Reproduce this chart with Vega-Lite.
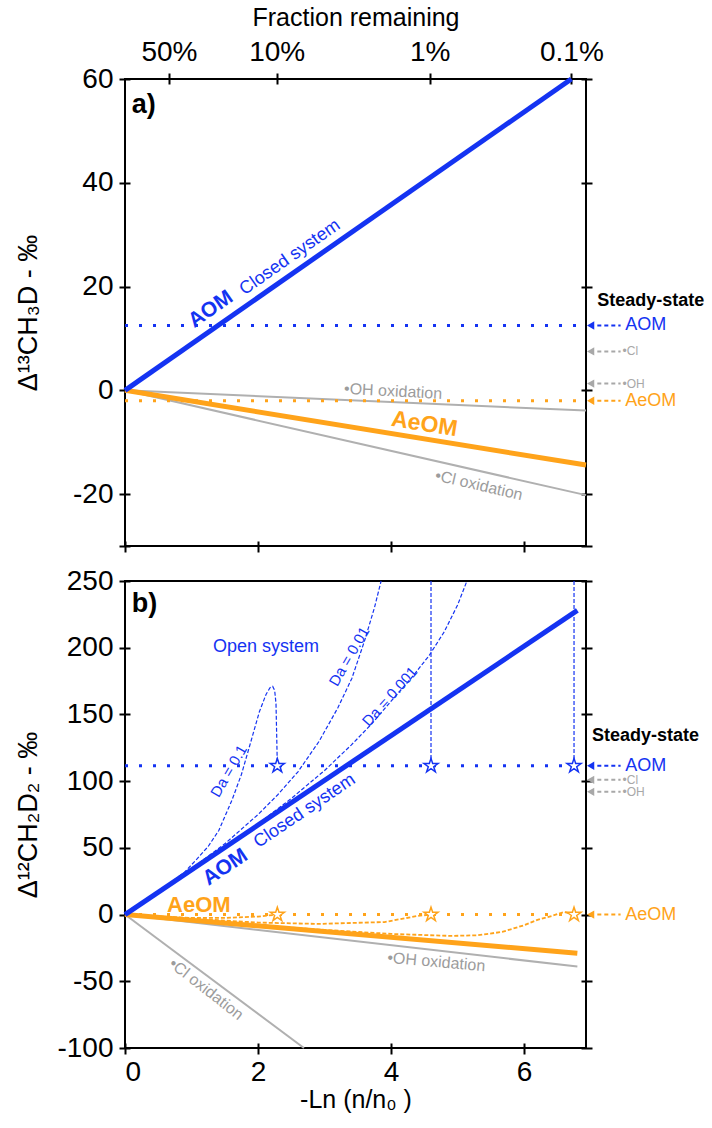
{
  "$schema": "https://vega.github.io/schema/vega-lite/v6.json",
  "padding": {"left": 13, "top": 4, "right": 0, "bottom": 0},
  "spacing": 35,
  "bounds": "flush",
  "config": {
    "font": "Liberation Sans",
    "view": {"stroke": "black", "strokeWidth": 2},
    "axis": {"domain": false, "grid": false, "offset": -5, "tickSize": 11, "tickWidth": 2, "tickColor": "black", "labelFont": "Liberation Sans", "labelFontSize": 28, "labelColor": "black", "labelPadding": 6, "titleFont": "Liberation Sans", "titleFontSize": 25, "titleFontWeight": "normal", "titleColor": "black"},
    "text": {"font": "Liberation Sans"}
  },
  "datasets": {
    "a_lines": [
      {"s": "AOM", "x": 0, "y": 0}, {"s": "AOM", "x": 6.71, "y": 60},
      {"s": "AeOM", "x": 0, "y": 0}, {"s": "AeOM", "x": 6.93, "y": -14.4},
      {"s": "OH", "x": 0, "y": 0}, {"s": "OH", "x": 6.93, "y": -3.9},
      {"s": "Cl", "x": 0, "y": 0}, {"s": "Cl", "x": 6.93, "y": -20.2},
      {"s": "AOM_ss", "x": 0, "y": 12.5}, {"s": "AOM_ss", "x": 6.93, "y": 12.5},
      {"s": "AeOM_ss", "x": 0, "y": -2}, {"s": "AeOM_ss", "x": 6.93, "y": -2}
    ],
    "a_text": [
      {"t": "a)", "x": 0.1, "y": 55},
      {"t": "AOM", "x": 1.29, "y": 15.6},
      {"t": "Closed system", "x": 2.48, "y": 25.6},
      {"t": "•OH oxidation", "x": 4.03, "y": -0.2},
      {"t": "AeOM", "x": 4.5, "y": -6.5},
      {"t": "•Cl oxidation", "x": 5.32, "y": -18.3},
      {"t": "Steady-state", "x": 7.1, "y": 17.3}
    ],
    "a_ss": [
      {"s": "AOM", "label": "AOM", "y": 12.5},
      {"s": "Cl", "label": "•Cl", "y": 7.5},
      {"s": "OH", "label": "•OH", "y": 1.3},
      {"s": "AeOM", "label": "AeOM", "y": -2}
    ],
    "b_lines": [
      {"s": "AOM", "x": 0, "y": 0}, {"s": "AOM", "x": 6.8, "y": 228},
      {"s": "AeOM", "x": 0, "y": 0}, {"s": "AeOM", "x": 6.8, "y": -29},
      {"s": "OH", "x": 0, "y": 0}, {"s": "OH", "x": 6.8, "y": -39},
      {"s": "Cl", "x": 0, "y": 0}, {"s": "Cl", "x": 2.69, "y": -100},
      {"s": "AOM_ss", "x": 0, "y": 111.5}, {"s": "AOM_ss", "x": 6.93, "y": 111.5},
      {"s": "AeOM_ss", "x": 0, "y": 0}, {"s": "AeOM_ss", "x": 6.93, "y": 0}
    ],
    "b_open": [
      {"s": "Da0.1", "x": 0, "y": 0}, {"s": "Da0.1", "x": 0.3, "y": 10}, {"s": "Da0.1", "x": 0.66, "y": 23}, {"s": "Da0.1", "x": 0.9, "y": 32}, {"s": "Da0.1", "x": 1.07, "y": 41}, {"s": "Da0.1", "x": 1.25, "y": 51}, {"s": "Da0.1", "x": 1.41, "y": 63}, {"s": "Da0.1", "x": 1.61, "y": 86}, {"s": "Da0.1", "x": 1.75, "y": 105}, {"s": "Da0.1", "x": 1.86, "y": 124}, {"s": "Da0.1", "x": 2.02, "y": 152}, {"s": "Da0.1", "x": 2.12, "y": 165}, {"s": "Da0.1", "x": 2.18, "y": 170}, {"s": "Da0.1", "x": 2.22, "y": 171}, {"s": "Da0.1", "x": 2.25, "y": 168}, {"s": "Da0.1", "x": 2.27, "y": 158}, {"s": "Da0.1", "x": 2.28, "y": 135}, {"s": "Da0.1", "x": 2.29, "y": 111.5},
      {"s": "Da0.01", "x": 0, "y": 0}, {"s": "Da0.01", "x": 0.5, "y": 17}, {"s": "Da0.01", "x": 1.0, "y": 34.5}, {"s": "Da0.01", "x": 1.5, "y": 53}, {"s": "Da0.01", "x": 2.0, "y": 75}, {"s": "Da0.01", "x": 2.3, "y": 90}, {"s": "Da0.01", "x": 2.6, "y": 107}, {"s": "Da0.01", "x": 2.92, "y": 130}, {"s": "Da0.01", "x": 3.2, "y": 155}, {"s": "Da0.01", "x": 3.41, "y": 177}, {"s": "Da0.01", "x": 3.6, "y": 205}, {"s": "Da0.01", "x": 3.75, "y": 230}, {"s": "Da0.01", "x": 3.85, "y": 250},
      {"s": "Da0.001", "x": 0, "y": 0}, {"s": "Da0.001", "x": 1.0, "y": 33.5}, {"s": "Da0.001", "x": 2.0, "y": 68}, {"s": "Da0.001", "x": 2.5, "y": 87}, {"s": "Da0.001", "x": 3.0, "y": 108}, {"s": "Da0.001", "x": 3.4, "y": 127}, {"s": "Da0.001", "x": 3.71, "y": 143}, {"s": "Da0.001", "x": 4.0, "y": 160}, {"s": "Da0.001", "x": 4.3, "y": 177}, {"s": "Da0.001", "x": 4.57, "y": 194}, {"s": "Da0.001", "x": 4.8, "y": 212}, {"s": "Da0.001", "x": 5.0, "y": 232}, {"s": "Da0.001", "x": 5.14, "y": 250}
    ],
    "b_vert": [
      {"x": 4.6, "y": 250, "y2": 111.5},
      {"x": 6.75, "y": 250, "y2": 111.5}
    ],
    "b_open_ae": [
      {"s": "Da0.1", "x": 0, "y": 0}, {"s": "Da0.1", "x": 0.5, "y": -1.5}, {"s": "Da0.1", "x": 1.0, "y": -2.5}, {"s": "Da0.1", "x": 1.5, "y": -2.5}, {"s": "Da0.1", "x": 2.0, "y": -1.5}, {"s": "Da0.1", "x": 2.29, "y": 0},
      {"s": "Da0.01", "x": 0, "y": 0}, {"s": "Da0.01", "x": 1.0, "y": -3}, {"s": "Da0.01", "x": 2.0, "y": -6}, {"s": "Da0.01", "x": 2.9, "y": -7}, {"s": "Da0.01", "x": 3.9, "y": -5.6}, {"s": "Da0.01", "x": 4.4, "y": -1}, {"s": "Da0.01", "x": 4.6, "y": 0},
      {"s": "Da0.001", "x": 0, "y": 0}, {"s": "Da0.001", "x": 1.0, "y": -4}, {"s": "Da0.001", "x": 2.0, "y": -8}, {"s": "Da0.001", "x": 3.0, "y": -11.5}, {"s": "Da0.001", "x": 4.0, "y": -14.5}, {"s": "Da0.001", "x": 4.9, "y": -16}, {"s": "Da0.001", "x": 5.3, "y": -15.5}, {"s": "Da0.001", "x": 5.67, "y": -13}, {"s": "Da0.001", "x": 6.0, "y": -8}, {"s": "Da0.001", "x": 6.2, "y": -4}, {"s": "Da0.001", "x": 6.42, "y": -1}, {"s": "Da0.001", "x": 6.6, "y": 2}, {"s": "Da0.001", "x": 6.75, "y": 0}
    ],
    "b_stars": [
      {"s": "AOM", "x": 2.29, "y": 111.5}, {"s": "AOM", "x": 4.6, "y": 111.5}, {"s": "AOM", "x": 6.75, "y": 111.5},
      {"s": "AeOM", "x": 2.29, "y": 0}, {"s": "AeOM", "x": 4.6, "y": 0}, {"s": "AeOM", "x": 6.75, "y": 0}
    ],
    "b_text": [
      {"t": "b)", "x": 0.1, "y": 233},
      {"t": "Open system", "x": 2.12, "y": 200.6},
      {"t": "Da = 0.1", "x": 1.56, "y": 107.6},
      {"t": "Da = 0.01", "x": 3.37, "y": 193.5},
      {"t": "Da = 0.001", "x": 3.98, "y": 163.5},
      {"t": "AOM", "x": 1.51, "y": 35.4},
      {"t": "Closed system", "x": 2.7, "y": 77.6},
      {"t": "AeOM", "x": 1.11, "y": 7.2},
      {"t": "•OH oxidation", "x": 4.68, "y": -35.5},
      {"t": "•Cl oxidation", "x": 1.22, "y": -56},
      {"t": "Steady-state", "x": 7.02, "y": 134}
    ],
    "b_ss": [
      {"s": "AOM", "label": "AOM", "y": 111.5},
      {"s": "Cl", "label": "•Cl", "y": 101},
      {"s": "OH", "label": "•OH", "y": 92},
      {"s": "AeOM", "label": "AeOM", "y": 0}
    ]
  },
  "vconcat": [
    {
      "width": 461,
      "height": 467,
      "resolve": {"axis": {"x": "independent", "y": "independent"}},
      "layer": [
        {
          "data": {"name": "a_lines"},
          "transform": [{"filter": "datum.s === 'OH' || datum.s === 'Cl'"}],
          "mark": {"type": "line", "color": "#b0b0b0", "strokeWidth": 2},
          "encoding": {
            "x": {"field": "x", "type": "quantitative", "scale": {"domain": [0, 6.93], "nice": false, "zero": false}, "axis": {"orient": "bottom", "values": [0, 2, 4, 6], "labels": false, "title": null}},
            "y": {"field": "y", "type": "quantitative", "scale": {"domain": [-30, 60], "nice": false}, "axis": {"orient": "left", "values": [-30, -20, 0, 20, 40, 60], "labelExpr": "datum.value == -30 ? '' : (datum.value < 0 ? '-' + abs(datum.value) : '' + datum.value)", "title": "Δ¹³CH₃D - ‰", "titleFontSize": 27, "titleX": -88}},
            "detail": {"field": "s"}
          }
        },
        {
          "data": {"name": "a_lines"},
          "transform": [{"filter": "datum.s === 'AOM_ss' || datum.s === 'AeOM_ss'"}],
          "mark": {"type": "line", "strokeWidth": 3, "strokeDash": [3, 11]},
          "encoding": {
            "x": {"field": "x", "type": "quantitative", "scale": {"domain": [0, 6.93], "nice": false, "zero": false}, "axis": {"orient": "top", "values": [0.66, 2.28, 4.58, 6.71], "labelExpr": "datum.value < 1 ? '50%' : datum.value < 3 ? '10%' : datum.value < 5 ? '1%' : '0.1%'", "labelPadding": 7, "title": "Fraction remaining", "titlePadding": 8}},
            "y": {"field": "y", "type": "quantitative", "scale": {"domain": [-30, 60], "nice": false}, "axis": {"orient": "right", "values": [-30, -20, 0, 20, 40, 60], "labels": false, "title": null}},
            "color": {"field": "s", "type": "nominal", "scale": {"domain": ["AOM", "AeOM", "Cl", "OH", "AOM_ss", "AeOM_ss"], "range": ["#1433f2", "#ffa31a", "#a8a8a8", "#a8a8a8", "#1433f2", "#ffa31a"]}, "legend": null}
          }
        },
        {
          "data": {"name": "a_lines"},
          "transform": [{"filter": "datum.s === 'AeOM'"}],
          "mark": {"type": "line", "color": "#ffa31a", "strokeWidth": 5},
          "encoding": {
            "x": {"field": "x", "type": "quantitative", "scale": {"domain": [0, 6.93], "nice": false, "zero": false}, "axis": null},
            "y": {"field": "y", "type": "quantitative", "scale": {"domain": [-30, 60], "nice": false}, "axis": null}
          }
        },
        {
          "data": {"name": "a_lines"},
          "transform": [{"filter": "datum.s === 'AOM'"}],
          "mark": {"type": "line", "color": "#1433f2", "strokeWidth": 5},
          "encoding": {
            "x": {"field": "x", "type": "quantitative", "scale": {"domain": [0, 6.93], "nice": false, "zero": false}, "axis": null},
            "y": {"field": "y", "type": "quantitative", "scale": {"domain": [-30, 60], "nice": false}, "axis": null}
          }
        },
        {
          "data": {"name": "a_text"},
          "transform": [{"filter": "datum.t === 'a)'"}],
          "mark": {"type": "text", "align": "left", "baseline": "middle", "fontSize": 27, "fontWeight": "bold", "color": "black"},
          "encoding": {
            "x": {"field": "x", "type": "quantitative", "scale": {"domain": [0, 6.93], "nice": false, "zero": false}, "axis": null},
            "y": {"field": "y", "type": "quantitative", "scale": {"domain": [-30, 60], "nice": false}, "axis": null},
            "text": {"field": "t"}
          }
        },
        {
          "data": {"name": "a_text"},
          "transform": [{"filter": "datum.t === 'AOM'"}],
          "mark": {"type": "text", "angle": -35, "fontSize": 21, "fontWeight": "bold", "color": "#1433f2"},
          "encoding": {
            "x": {"field": "x", "type": "quantitative", "scale": {"domain": [0, 6.93], "nice": false, "zero": false}, "axis": null},
            "y": {"field": "y", "type": "quantitative", "scale": {"domain": [-30, 60], "nice": false}, "axis": null},
            "text": {"field": "t"}
          }
        },
        {
          "data": {"name": "a_text"},
          "transform": [{"filter": "datum.t === 'Closed system'"}],
          "mark": {"type": "text", "angle": -35, "fontSize": 18, "color": "#1433f2"},
          "encoding": {
            "x": {"field": "x", "type": "quantitative", "scale": {"domain": [0, 6.93], "nice": false, "zero": false}, "axis": null},
            "y": {"field": "y", "type": "quantitative", "scale": {"domain": [-30, 60], "nice": false}, "axis": null},
            "text": {"field": "t"}
          }
        },
        {
          "data": {"name": "a_text"},
          "transform": [{"filter": "datum.t === '•OH oxidation'"}],
          "mark": {"type": "text", "angle": 3, "fontSize": 16, "color": "#9c9c9c"},
          "encoding": {
            "x": {"field": "x", "type": "quantitative", "scale": {"domain": [0, 6.93], "nice": false, "zero": false}, "axis": null},
            "y": {"field": "y", "type": "quantitative", "scale": {"domain": [-30, 60], "nice": false}, "axis": null},
            "text": {"field": "t"}
          }
        },
        {
          "data": {"name": "a_text"},
          "transform": [{"filter": "datum.t === 'AeOM'"}],
          "mark": {"type": "text", "angle": 9, "fontSize": 23, "fontWeight": "bold", "color": "#ffa31a"},
          "encoding": {
            "x": {"field": "x", "type": "quantitative", "scale": {"domain": [0, 6.93], "nice": false, "zero": false}, "axis": null},
            "y": {"field": "y", "type": "quantitative", "scale": {"domain": [-30, 60], "nice": false}, "axis": null},
            "text": {"field": "t"}
          }
        },
        {
          "data": {"name": "a_text"},
          "transform": [{"filter": "datum.t === '•Cl oxidation'"}],
          "mark": {"type": "text", "angle": 13, "fontSize": 16, "color": "#9c9c9c"},
          "encoding": {
            "x": {"field": "x", "type": "quantitative", "scale": {"domain": [0, 6.93], "nice": false, "zero": false}, "axis": null},
            "y": {"field": "y", "type": "quantitative", "scale": {"domain": [-30, 60], "nice": false}, "axis": null},
            "text": {"field": "t"}
          }
        },
        {
          "data": {"name": "a_text"},
          "transform": [{"filter": "datum.t === 'Steady-state'"}],
          "mark": {"type": "text", "align": "left", "fontSize": 18, "fontWeight": "bold", "color": "black"},
          "encoding": {
            "x": {"field": "x", "type": "quantitative", "scale": {"domain": [0, 6.93], "nice": false, "zero": false}, "axis": null},
            "y": {"field": "y", "type": "quantitative", "scale": {"domain": [-30, 60], "nice": false}, "axis": null},
            "text": {"field": "t"}
          }
        },
        {
          "data": {"name": "a_ss"},
          "mark": {"type": "point", "shape": "triangle-left", "filled": true, "size": 70, "opacity": 1},
          "encoding": {
            "x": {"datum": 7.0, "type": "quantitative", "scale": {"domain": [0, 6.93], "nice": false, "zero": false}, "axis": null},
            "y": {"field": "y", "type": "quantitative", "scale": {"domain": [-30, 60], "nice": false}, "axis": null},
            "color": {"field": "s", "type": "nominal", "scale": {"domain": ["AOM", "AeOM", "Cl", "OH", "AOM_ss", "AeOM_ss"], "range": ["#1433f2", "#ffa31a", "#a8a8a8", "#a8a8a8", "#1433f2", "#ffa31a"]}, "legend": null}
          }
        },
        {
          "data": {"name": "a_ss"},
          "mark": {"type": "rule", "strokeWidth": 2, "strokeDash": [4, 3]},
          "encoding": {
            "x": {"datum": 7.1, "type": "quantitative", "scale": {"domain": [0, 6.93], "nice": false, "zero": false}, "axis": null},
            "x2": {"datum": 7.45},
            "y": {"field": "y", "type": "quantitative", "scale": {"domain": [-30, 60], "nice": false}, "axis": null},
            "color": {"field": "s", "type": "nominal", "scale": {"domain": ["AOM", "AeOM", "Cl", "OH", "AOM_ss", "AeOM_ss"], "range": ["#1433f2", "#ffa31a", "#a8a8a8", "#a8a8a8", "#1433f2", "#ffa31a"]}, "legend": null}
          }
        },
        {
          "data": {"name": "a_ss"},
          "transform": [{"filter": "datum.s === 'AOM' || datum.s === 'AeOM'"}],
          "mark": {"type": "text", "align": "left", "fontSize": 18},
          "encoding": {
            "x": {"datum": 7.52, "type": "quantitative", "scale": {"domain": [0, 6.93], "nice": false, "zero": false}, "axis": null},
            "y": {"field": "y", "type": "quantitative", "scale": {"domain": [-30, 60], "nice": false}, "axis": null},
            "text": {"field": "label"},
            "color": {"field": "s", "type": "nominal", "scale": {"domain": ["AOM", "AeOM", "Cl", "OH", "AOM_ss", "AeOM_ss"], "range": ["#1433f2", "#ffa31a", "#a8a8a8", "#a8a8a8", "#1433f2", "#ffa31a"]}, "legend": null}
          }
        },
        {
          "data": {"name": "a_ss"},
          "transform": [{"filter": "datum.s === 'Cl' || datum.s === 'OH'"}],
          "mark": {"type": "text", "align": "left", "fontSize": 12},
          "encoding": {
            "x": {"datum": 7.48, "type": "quantitative", "scale": {"domain": [0, 6.93], "nice": false, "zero": false}, "axis": null},
            "y": {"field": "y", "type": "quantitative", "scale": {"domain": [-30, 60], "nice": false}, "axis": null},
            "text": {"field": "label"},
            "color": {"field": "s", "type": "nominal", "scale": {"domain": ["AOM", "AeOM", "Cl", "OH", "AOM_ss", "AeOM_ss"], "range": ["#1433f2", "#ffa31a", "#a8a8a8", "#a8a8a8", "#1433f2", "#ffa31a"]}, "legend": null}
          }
        }
      ]
    },
    {
      "width": 461,
      "height": 467,
      "resolve": {"axis": {"x": "independent", "y": "independent"}},
      "layer": [
        {
          "data": {"name": "b_lines"},
          "transform": [{"filter": "datum.s === 'OH' || datum.s === 'Cl'"}],
          "mark": {"type": "line", "color": "#b0b0b0", "strokeWidth": 2},
          "encoding": {
            "x": {"field": "x", "type": "quantitative", "scale": {"domain": [0, 6.93], "nice": false, "zero": false}, "axis": {"orient": "bottom", "values": [0, 2, 4, 6], "labelPadding": 4, "title": "-Ln (n/n₀ )", "titlePadding": 1}},
            "y": {"field": "y", "type": "quantitative", "scale": {"domain": [-100, 250], "nice": false}, "axis": {"orient": "left", "values": [-100, -50, 0, 50, 100, 150, 200, 250], "labelExpr": "datum.value < 0 ? '-' + abs(datum.value) : '' + datum.value", "title": "Δ¹²CH₂D₂ - ‰", "titleFontSize": 27, "titleX": -88}},
            "detail": {"field": "s"}
          }
        },
        {
          "data": {"name": "b_lines"},
          "transform": [{"filter": "datum.s === 'AOM_ss' || datum.s === 'AeOM_ss'"}],
          "mark": {"type": "line", "strokeWidth": 3, "strokeDash": [3, 11]},
          "encoding": {
            "x": {"field": "x", "type": "quantitative", "scale": {"domain": [0, 6.93], "nice": false, "zero": false}, "axis": null},
            "y": {"field": "y", "type": "quantitative", "scale": {"domain": [-100, 250], "nice": false}, "axis": {"orient": "right", "values": [-100, -50, 0, 50, 100, 150, 200, 250], "labels": false, "title": null}},
            "color": {"field": "s", "type": "nominal", "scale": {"domain": ["AOM", "AeOM", "Cl", "OH", "AOM_ss", "AeOM_ss"], "range": ["#1433f2", "#ffa31a", "#a8a8a8", "#a8a8a8", "#1433f2", "#ffa31a"]}, "legend": null}
          }
        },
        {
          "data": {"name": "b_open"},
          "mark": {"type": "line", "color": "#1433f2", "strokeWidth": 1.2, "strokeDash": [4, 2]},
          "encoding": {
            "x": {"field": "x", "type": "quantitative", "scale": {"domain": [0, 6.93], "nice": false, "zero": false}, "axis": null},
            "y": {"field": "y", "type": "quantitative", "scale": {"domain": [-100, 250], "nice": false}, "axis": null},
            "detail": {"field": "s"}
          }
        },
        {
          "data": {"name": "b_vert"},
          "mark": {"type": "rule", "color": "#1433f2", "strokeWidth": 1.2, "strokeDash": [4, 2]},
          "encoding": {
            "x": {"field": "x", "type": "quantitative", "scale": {"domain": [0, 6.93], "nice": false, "zero": false}, "axis": null},
            "y": {"field": "y", "type": "quantitative", "scale": {"domain": [-100, 250], "nice": false}, "axis": null},
            "y2": {"field": "y2"}
          }
        },
        {
          "data": {"name": "b_open_ae"},
          "mark": {"type": "line", "color": "#ffa31a", "strokeWidth": 1.8, "strokeDash": [4, 2]},
          "encoding": {
            "x": {"field": "x", "type": "quantitative", "scale": {"domain": [0, 6.93], "nice": false, "zero": false}, "axis": null},
            "y": {"field": "y", "type": "quantitative", "scale": {"domain": [-100, 250], "nice": false}, "axis": null},
            "detail": {"field": "s"}
          }
        },
        {
          "data": {"name": "b_lines"},
          "transform": [{"filter": "datum.s === 'AeOM'"}],
          "mark": {"type": "line", "color": "#ffa31a", "strokeWidth": 5},
          "encoding": {
            "x": {"field": "x", "type": "quantitative", "scale": {"domain": [0, 6.93], "nice": false, "zero": false}, "axis": null},
            "y": {"field": "y", "type": "quantitative", "scale": {"domain": [-100, 250], "nice": false}, "axis": null}
          }
        },
        {
          "data": {"name": "b_lines"},
          "transform": [{"filter": "datum.s === 'AOM'"}],
          "mark": {"type": "line", "color": "#1433f2", "strokeWidth": 5},
          "encoding": {
            "x": {"field": "x", "type": "quantitative", "scale": {"domain": [0, 6.93], "nice": false, "zero": false}, "axis": null},
            "y": {"field": "y", "type": "quantitative", "scale": {"domain": [-100, 250], "nice": false}, "axis": null}
          }
        },
        {
          "data": {"name": "b_stars"},
          "mark": {"type": "point", "shape": "M0,-1L0.2245,-0.309L0.9511,-0.309L0.3633,0.118L0.5878,0.809L0,0.382L-0.5878,0.809L-0.3633,0.118L-0.9511,-0.309L-0.2245,-0.309Z", "filled": false, "fill": "white", "fillOpacity": 1, "strokeWidth": 1.5, "size": 220, "opacity": 1},
          "encoding": {
            "x": {"field": "x", "type": "quantitative", "scale": {"domain": [0, 6.93], "nice": false, "zero": false}, "axis": null},
            "y": {"field": "y", "type": "quantitative", "scale": {"domain": [-100, 250], "nice": false}, "axis": null},
            "stroke": {"field": "s", "type": "nominal", "scale": {"domain": ["AOM", "AeOM"], "range": ["#1433f2", "#ffa31a"]}, "legend": null}
          }
        },
        {
          "data": {"name": "b_text"},
          "transform": [{"filter": "datum.t === 'b)'"}],
          "mark": {"type": "text", "align": "left", "baseline": "middle", "fontSize": 27, "fontWeight": "bold", "color": "black"},
          "encoding": {
            "x": {"field": "x", "type": "quantitative", "scale": {"domain": [0, 6.93], "nice": false, "zero": false}, "axis": null},
            "y": {"field": "y", "type": "quantitative", "scale": {"domain": [-100, 250], "nice": false}, "axis": null},
            "text": {"field": "t"}
          }
        },
        {
          "data": {"name": "b_text"},
          "transform": [{"filter": "datum.t === 'Open system'"}],
          "mark": {"type": "text", "fontSize": 18, "color": "#1433f2"},
          "encoding": {
            "x": {"field": "x", "type": "quantitative", "scale": {"domain": [0, 6.93], "nice": false, "zero": false}, "axis": null},
            "y": {"field": "y", "type": "quantitative", "scale": {"domain": [-100, 250], "nice": false}, "axis": null},
            "text": {"field": "t"}
          }
        },
        {
          "data": {"name": "b_text"},
          "transform": [{"filter": "datum.t === 'Da = 0.1'"}],
          "mark": {"type": "text", "angle": -60, "fontSize": 15, "color": "#1433f2"},
          "encoding": {
            "x": {"field": "x", "type": "quantitative", "scale": {"domain": [0, 6.93], "nice": false, "zero": false}, "axis": null},
            "y": {"field": "y", "type": "quantitative", "scale": {"domain": [-100, 250], "nice": false}, "axis": null},
            "text": {"field": "t"}
          }
        },
        {
          "data": {"name": "b_text"},
          "transform": [{"filter": "datum.t === 'Da = 0.01'"}],
          "mark": {"type": "text", "angle": -60, "fontSize": 15, "color": "#1433f2"},
          "encoding": {
            "x": {"field": "x", "type": "quantitative", "scale": {"domain": [0, 6.93], "nice": false, "zero": false}, "axis": null},
            "y": {"field": "y", "type": "quantitative", "scale": {"domain": [-100, 250], "nice": false}, "axis": null},
            "text": {"field": "t"}
          }
        },
        {
          "data": {"name": "b_text"},
          "transform": [{"filter": "datum.t === 'Da = 0.001'"}],
          "mark": {"type": "text", "angle": -48, "fontSize": 15, "color": "#1433f2"},
          "encoding": {
            "x": {"field": "x", "type": "quantitative", "scale": {"domain": [0, 6.93], "nice": false, "zero": false}, "axis": null},
            "y": {"field": "y", "type": "quantitative", "scale": {"domain": [-100, 250], "nice": false}, "axis": null},
            "text": {"field": "t"}
          }
        },
        {
          "data": {"name": "b_text"},
          "transform": [{"filter": "datum.t === 'AOM'"}],
          "mark": {"type": "text", "angle": -34, "fontSize": 21, "fontWeight": "bold", "color": "#1433f2"},
          "encoding": {
            "x": {"field": "x", "type": "quantitative", "scale": {"domain": [0, 6.93], "nice": false, "zero": false}, "axis": null},
            "y": {"field": "y", "type": "quantitative", "scale": {"domain": [-100, 250], "nice": false}, "axis": null},
            "text": {"field": "t"}
          }
        },
        {
          "data": {"name": "b_text"},
          "transform": [{"filter": "datum.t === 'Closed system'"}],
          "mark": {"type": "text", "angle": -34, "fontSize": 18, "color": "#1433f2"},
          "encoding": {
            "x": {"field": "x", "type": "quantitative", "scale": {"domain": [0, 6.93], "nice": false, "zero": false}, "axis": null},
            "y": {"field": "y", "type": "quantitative", "scale": {"domain": [-100, 250], "nice": false}, "axis": null},
            "text": {"field": "t"}
          }
        },
        {
          "data": {"name": "b_text"},
          "transform": [{"filter": "datum.t === 'AeOM'"}],
          "mark": {"type": "text", "fontSize": 22, "fontWeight": "bold", "color": "#ffa31a"},
          "encoding": {
            "x": {"field": "x", "type": "quantitative", "scale": {"domain": [0, 6.93], "nice": false, "zero": false}, "axis": null},
            "y": {"field": "y", "type": "quantitative", "scale": {"domain": [-100, 250], "nice": false}, "axis": null},
            "text": {"field": "t"}
          }
        },
        {
          "data": {"name": "b_text"},
          "transform": [{"filter": "datum.t === '•OH oxidation'"}],
          "mark": {"type": "text", "angle": 5, "fontSize": 16, "color": "#9c9c9c"},
          "encoding": {
            "x": {"field": "x", "type": "quantitative", "scale": {"domain": [0, 6.93], "nice": false, "zero": false}, "axis": null},
            "y": {"field": "y", "type": "quantitative", "scale": {"domain": [-100, 250], "nice": false}, "axis": null},
            "text": {"field": "t"}
          }
        },
        {
          "data": {"name": "b_text"},
          "transform": [{"filter": "datum.t === '•Cl oxidation'"}],
          "mark": {"type": "text", "angle": 38, "fontSize": 16, "color": "#9c9c9c"},
          "encoding": {
            "x": {"field": "x", "type": "quantitative", "scale": {"domain": [0, 6.93], "nice": false, "zero": false}, "axis": null},
            "y": {"field": "y", "type": "quantitative", "scale": {"domain": [-100, 250], "nice": false}, "axis": null},
            "text": {"field": "t"}
          }
        },
        {
          "data": {"name": "b_text"},
          "transform": [{"filter": "datum.t === 'Steady-state'"}],
          "mark": {"type": "text", "align": "left", "fontSize": 18, "fontWeight": "bold", "color": "black"},
          "encoding": {
            "x": {"field": "x", "type": "quantitative", "scale": {"domain": [0, 6.93], "nice": false, "zero": false}, "axis": null},
            "y": {"field": "y", "type": "quantitative", "scale": {"domain": [-100, 250], "nice": false}, "axis": null},
            "text": {"field": "t"}
          }
        },
        {
          "data": {"name": "b_ss"},
          "mark": {"type": "point", "shape": "triangle-left", "filled": true, "size": 70, "opacity": 1},
          "encoding": {
            "x": {"datum": 7.0, "type": "quantitative", "scale": {"domain": [0, 6.93], "nice": false, "zero": false}, "axis": null},
            "y": {"field": "y", "type": "quantitative", "scale": {"domain": [-100, 250], "nice": false}, "axis": null},
            "color": {"field": "s", "type": "nominal", "scale": {"domain": ["AOM", "AeOM", "Cl", "OH", "AOM_ss", "AeOM_ss"], "range": ["#1433f2", "#ffa31a", "#a8a8a8", "#a8a8a8", "#1433f2", "#ffa31a"]}, "legend": null}
          }
        },
        {
          "data": {"name": "b_ss"},
          "mark": {"type": "rule", "strokeWidth": 2, "strokeDash": [4, 3]},
          "encoding": {
            "x": {"datum": 7.1, "type": "quantitative", "scale": {"domain": [0, 6.93], "nice": false, "zero": false}, "axis": null},
            "x2": {"datum": 7.45},
            "y": {"field": "y", "type": "quantitative", "scale": {"domain": [-100, 250], "nice": false}, "axis": null},
            "color": {"field": "s", "type": "nominal", "scale": {"domain": ["AOM", "AeOM", "Cl", "OH", "AOM_ss", "AeOM_ss"], "range": ["#1433f2", "#ffa31a", "#a8a8a8", "#a8a8a8", "#1433f2", "#ffa31a"]}, "legend": null}
          }
        },
        {
          "data": {"name": "b_ss"},
          "transform": [{"filter": "datum.s === 'AOM' || datum.s === 'AeOM'"}],
          "mark": {"type": "text", "align": "left", "fontSize": 18},
          "encoding": {
            "x": {"datum": 7.52, "type": "quantitative", "scale": {"domain": [0, 6.93], "nice": false, "zero": false}, "axis": null},
            "y": {"field": "y", "type": "quantitative", "scale": {"domain": [-100, 250], "nice": false}, "axis": null},
            "text": {"field": "label"},
            "color": {"field": "s", "type": "nominal", "scale": {"domain": ["AOM", "AeOM", "Cl", "OH", "AOM_ss", "AeOM_ss"], "range": ["#1433f2", "#ffa31a", "#a8a8a8", "#a8a8a8", "#1433f2", "#ffa31a"]}, "legend": null}
          }
        },
        {
          "data": {"name": "b_ss"},
          "transform": [{"filter": "datum.s === 'Cl' || datum.s === 'OH'"}],
          "mark": {"type": "text", "align": "left", "fontSize": 12},
          "encoding": {
            "x": {"datum": 7.48, "type": "quantitative", "scale": {"domain": [0, 6.93], "nice": false, "zero": false}, "axis": null},
            "y": {"field": "y", "type": "quantitative", "scale": {"domain": [-100, 250], "nice": false}, "axis": null},
            "text": {"field": "label"},
            "color": {"field": "s", "type": "nominal", "scale": {"domain": ["AOM", "AeOM", "Cl", "OH", "AOM_ss", "AeOM_ss"], "range": ["#1433f2", "#ffa31a", "#a8a8a8", "#a8a8a8", "#1433f2", "#ffa31a"]}, "legend": null}
          }
        }
      ]
    }
  ]
}
